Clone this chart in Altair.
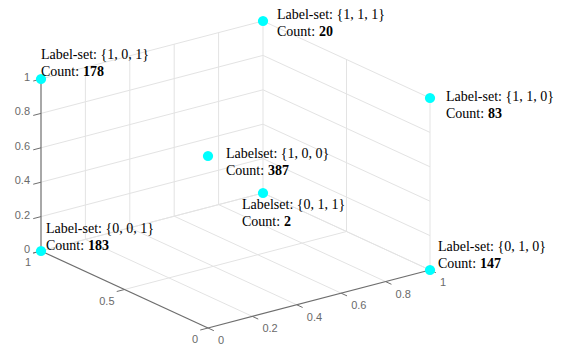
import altair as alt
import pandas as pd

# ---------------- data ----------------
label_sets = ["{1, 0, 1}", "{1, 1, 1}", "{1, 1, 0}", "{1, 0, 0}", "{0, 1, 1}", "{0, 0, 1}", "{0, 1, 0}"]
label_prefix = ["Label-set:", "Label-set:", "Label-set:", "Labelset:", "Labelset:", "Label-set:", "Label-set:"]
bit_first = [1, 1, 1, 1, 0, 0, 0]    # vertical axis (z)
bit_second = [0, 1, 1, 0, 1, 0, 1]   # right floor axis (x)
bit_third = [1, 1, 0, 0, 1, 1, 0]    # left floor axis (y)
counts = [178, 20, 83, 387, 2, 183, 147]

x_ticks = [0, 0.2, 0.4, 0.6, 0.8, 1]
x_tick_labels = ["0", "0.2", "0.4", "0.6", "0.8", "1"]
y_ticks = [0, 0.5, 1]
y_tick_labels = ["0", "0.5", "1"]
z_ticks = [0, 0.2, 0.4, 0.6, 0.8, 1]
z_tick_labels = ["0", "0.2", "0.4", "0.6", "0.8", "1"]

# ---------------- view (orthographic projection, px per unit) ----------------
EX = (222, 58)
EY = (-167, 77)
EZ = (0, 172)
XS = alt.Scale(domain=[-208, 355], nice=False, zero=False)
YS = alt.Scale(domain=[-18, 328], nice=False, zero=False)

# label nudges (pixels) for each label set: (dx, dy of first line centre)
label_offsets = {
    "{1, 0, 1}": (0, -24),
    "{1, 1, 1}": (14, -6),
    "{1, 1, 0}": (16, -1),
    "{1, 0, 0}": (18, -2),
    "{0, 1, 1}": (-21, 12),
    "{0, 0, 1}": (5, -22),
    "{0, 1, 0}": (8, -23),
}
LINE_GAP = 16.5
COUNT_W = 42

SERIF = "Liberation Serif"
SANS = "Liberation Sans"
GRID = "#e3e3e3"
AXIS = "#6e6e6e"
TICKTXT = "#6a6a6a"


def proj(prefix=""):
    return {
        f"px{prefix}": f"{EX[0]}*datum.x{prefix} + {EY[0]}*datum.y{prefix} + {EZ[0]}*datum.z{prefix}",
        f"pv{prefix}": f"{EX[1]}*datum.x{prefix} + {EY[1]}*datum.y{prefix} + {EZ[1]}*datum.z{prefix}",
    }


def seg_layer(segs, color, width):
    df = pd.DataFrame(segs, columns=["x", "y", "z", "x2", "y2", "z2"])
    return (
        alt.Chart(df)
        .transform_calculate(**proj(), **proj("2"))
        .mark_rule(color=color, strokeWidth=width)
        .encode(
            x=alt.X("px:Q", scale=XS, axis=None),
            y=alt.Y("pv:Q", scale=YS, axis=None),
            x2="px2:Q",
            y2="pv2:Q",
        )
    )


# ---------------- grid ----------------
grid = []
for t in z_ticks:
    grid.append((0, 1, t, 1, 1, t))  # back-left wall (y=1)
    grid.append((1, 0, t, 1, 1, t))  # back-right wall (x=1)
for t in x_ticks[1:]:
    grid.append((t, 1, 0, t, 1, 1))  # verticals on y=1 wall
for t in x_ticks[1:-1]:
    grid.append((t, 0, 0, t, 1, 0))  # floor lines
for t in y_ticks[:-1]:
    grid.append((1, t, 0, 1, t, 1))  # verticals on x=1 wall
for t in y_ticks[1:-1]:
    grid.append((0, t, 0, 1, t, 0))  # floor lines
grid.append((0, 1, 0, 1, 1, 0))
grid.append((1, 0, 0, 1, 1, 0))

axes = [
    (0, 1, 0, 0, 1, 1),  # z axis
    (0, 0, 0, 0, 1, 0),  # y axis
    (0, 0, 0, 1, 0, 0),  # x axis
]
TL = 0.035
ticks = []
for t in z_ticks:
    ticks.append((0, 1, t, -TL, 1, t))
for t in y_ticks:
    ticks.append((0, t, 0, -TL, t, 0))
for t in x_ticks:
    ticks.append((t, 0, 0, t, -TL, 0))

layers = [seg_layer(grid, GRID, 1), seg_layer(axes, AXIS, 1.2), seg_layer(ticks, AXIS, 1)]


def tick_text(vals, labels, axis, align, dx, dy):
    rows = []
    for v, lab in zip(vals, labels):
        if axis == "z":
            rows.append((0, 1, v, lab))
        elif axis == "y":
            rows.append((0, v, 0, lab))
        else:
            rows.append((v, 0, 0, lab))
    df = pd.DataFrame(rows, columns=["x", "y", "z", "label"])
    return (
        alt.Chart(df)
        .transform_calculate(**proj())
        .mark_text(align=align, baseline="middle", dx=dx, dy=dy, font=SANS, fontSize=11, color=TICKTXT)
        .encode(x=alt.X("px:Q", scale=XS, axis=None), y=alt.Y("pv:Q", scale=YS, axis=None), text="label:N")
    )


layers.append(tick_text(z_ticks, z_tick_labels, "z", "right", -11, -1))
layers.append(tick_text(y_ticks, y_tick_labels, "y", "right", -10, 12))
layers.append(tick_text(x_ticks, x_tick_labels, "x", "left", 10, 13))

# ---------------- points ----------------
pts = pd.DataFrame({
    "set": label_sets,
    "x": bit_second,
    "y": bit_third,
    "z": bit_first,
    "count": counts,
})
pts["line1"] = [f"{p} {s}" for p, s in zip(label_prefix, label_sets)]
pts["countText"] = pts["count"].astype(str)

base = alt.Chart(pts).transform_calculate(**proj())
enc = dict(x=alt.X("px:Q", scale=XS, axis=None), y=alt.Y("pv:Q", scale=YS, axis=None))

layers.append(base.mark_circle(size=105, color="#00ffff", opacity=1).encode(**enc))

for s in label_sets:
    dx, dy = label_offsets[s]
    b = base.transform_filter(alt.datum.set == s)
    layers.append(
        b.mark_text(align="left", baseline="middle", dx=dx, dy=dy, font=SERIF, fontSize=14, color="black")
        .encode(text="line1:N", **enc)
    )
    layers.append(
        b.mark_text(align="left", baseline="middle", dx=dx, dy=dy + LINE_GAP, font=SERIF, fontSize=14, color="black")
        .encode(text=alt.value("Count:"), **enc)
    )
    layers.append(
        b.mark_text(align="left", baseline="middle", dx=dx + COUNT_W, dy=dy + LINE_GAP, font=SERIF, fontSize=14,
                    fontWeight="bold", color="black")
        .encode(text="countText:N", **enc)
    )

chart = (
    alt.layer(*layers)
    .properties(width=563, height=346, padding=0, autosize="none", background="white")
    .configure_view(stroke=None)
)

chart.save("out.html", embed_options={"renderer": "svg", "actions": False})
